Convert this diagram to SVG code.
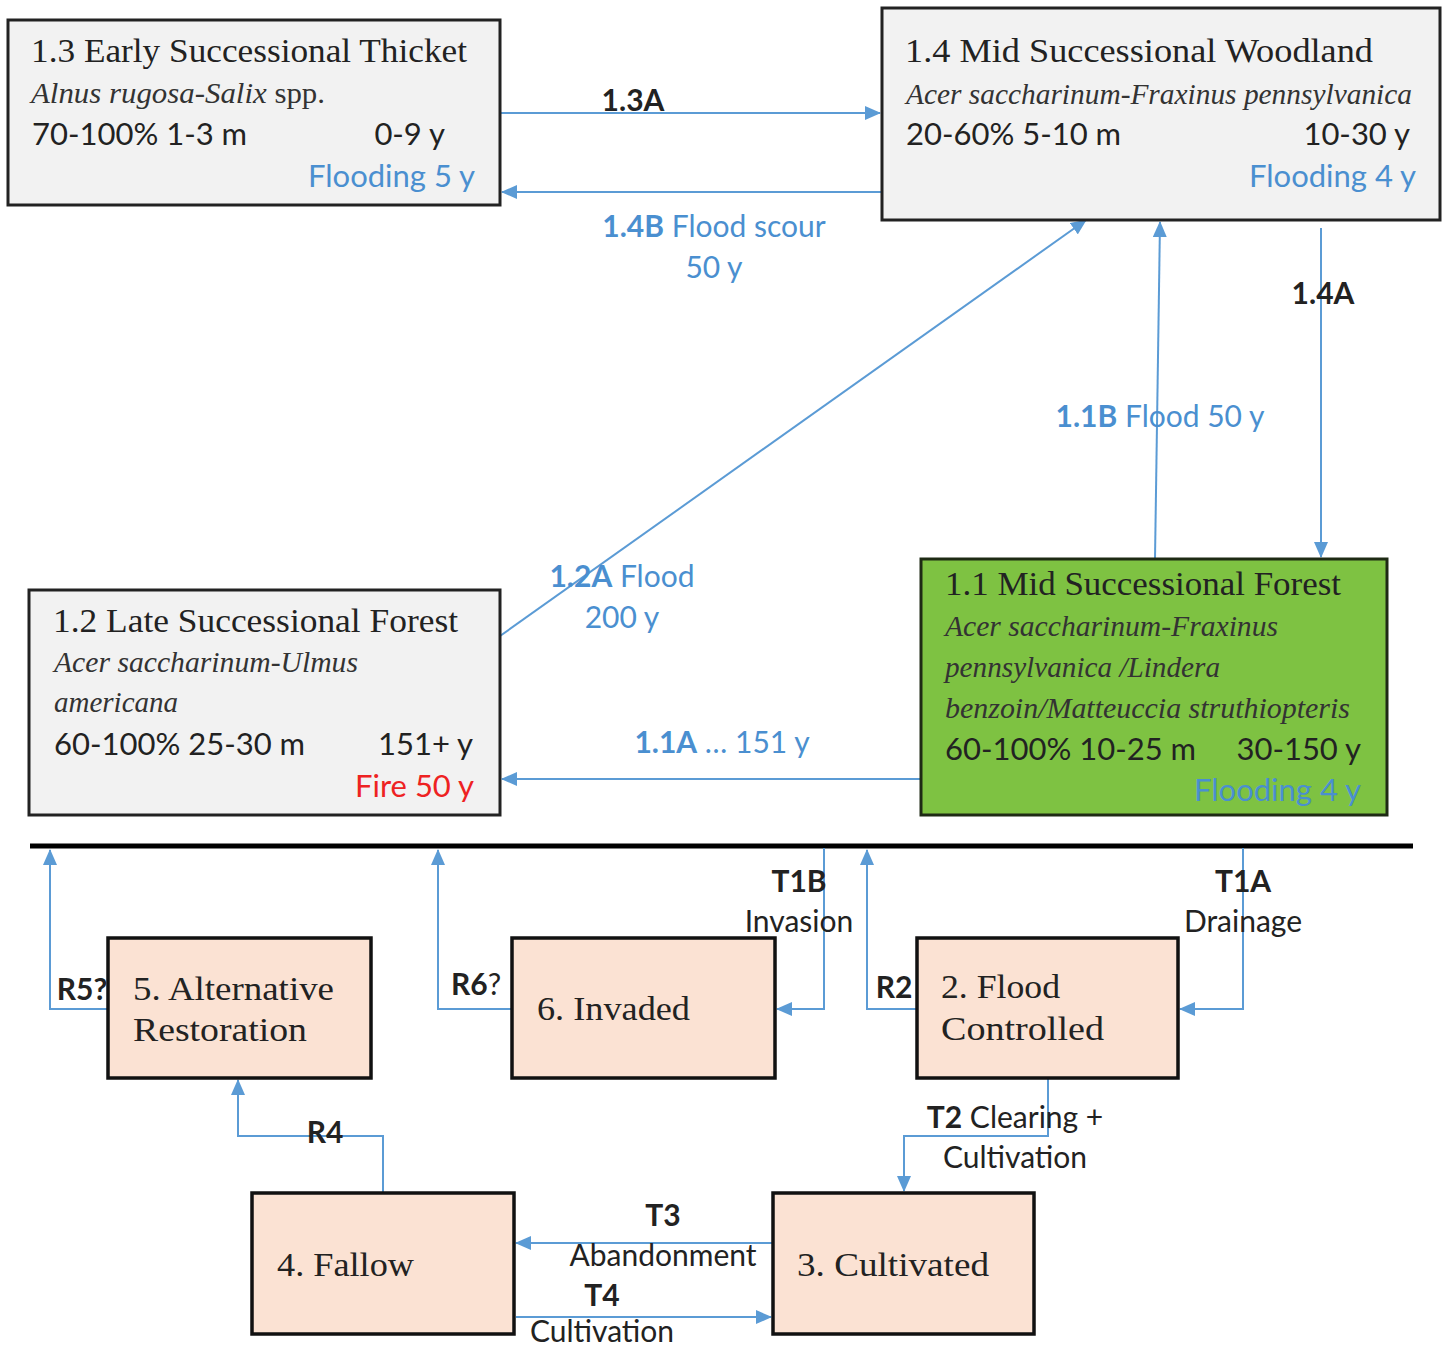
<svg xmlns="http://www.w3.org/2000/svg" width="1449" height="1351" viewBox="0 0 1449 1351">
<defs>
<marker id="ah" markerUnits="userSpaceOnUse" markerWidth="16" markerHeight="14" refX="15" refY="7" orient="auto">
<path d="M0,0 L16,7 L0,14 Z" fill="#5b9bd5"/>
</marker>
<style>
.box{fill:#f2f2f2;stroke:#222;stroke-width:3}
.grn{fill:#7ec242;stroke:#1e2a14;stroke-width:3}
.pch{fill:#fbe2d3;stroke:#111;stroke-width:3.5}
.hd{font-family:"Liberation Serif","DejaVu Serif",serif;font-size:33px;fill:#222}
.sp{font-family:"Liberation Serif","DejaVu Serif",serif;font-style:italic;font-size:30px;fill:#333}
.tx{font-family:Lato,"Liberation Sans",sans-serif;font-size:31px;fill:#222}
.bl{font-family:Lato,"Liberation Sans",sans-serif;font-size:31px;fill:#4a8fd0}
.rd{font-family:Lato,"Liberation Sans",sans-serif;font-size:31px;fill:#ee2222}
.lb{font-family:Lato,"Liberation Sans",sans-serif;font-size:30px;fill:#222}
.lbb{font-family:Lato,"Liberation Sans",sans-serif;font-size:30px;fill:#4a8fd0}
.b{font-weight:bold}
.n{font-style:normal}
.c{stroke:#5b9bd5;stroke-width:2;fill:none}
.st{font-family:"Liberation Serif","DejaVu Serif",serif;font-size:34px;fill:#222}
</style>
</defs>
<rect width="1449" height="1351" fill="#ffffff"/>

<g id="connectors">
<line class="c" x1="500" y1="113" x2="880" y2="113" marker-end="url(#ah)"/>
<line class="c" x1="882" y1="192" x2="502" y2="192" marker-end="url(#ah)"/>
<line class="c" x1="500" y1="636" x2="1086" y2="220" marker-end="url(#ah)"/>
<line class="c" x1="1155" y1="559" x2="1160" y2="222" marker-end="url(#ah)"/>
<line class="c" x1="1321" y1="228" x2="1321" y2="557" marker-end="url(#ah)"/>
<line class="c" x1="921" y1="779" x2="502" y2="779" marker-end="url(#ah)"/>
<line x1="30" y1="846" x2="1413" y2="846" stroke="#000" stroke-width="5"/>
<polyline class="c" points="108,1009 50,1009 50,850" marker-end="url(#ah)"/>
<polyline class="c" points="512,1009 438,1009 438,850" marker-end="url(#ah)"/>
<polyline class="c" points="824,848 824,1009 777,1009" marker-end="url(#ah)"/>
<polyline class="c" points="917,1009 867,1009 867,850" marker-end="url(#ah)"/>
<polyline class="c" points="1243,848 1243,1009 1180,1009" marker-end="url(#ah)"/>
<polyline class="c" points="1048,1078 1048,1136 904,1136 904,1191" marker-end="url(#ah)"/>
<polyline class="c" points="383,1193 383,1136 238,1136 238,1080" marker-end="url(#ah)"/>
<line class="c" x1="773" y1="1243" x2="516" y2="1243" marker-end="url(#ah)"/>
<line class="c" x1="516" y1="1317" x2="771" y2="1317" marker-end="url(#ah)"/>

<text class="lb b" x="633" y="111" text-anchor="middle">1.3A</text>
<text class="lbb" x="714" y="237" text-anchor="middle"><tspan class="b">1.4B</tspan> Flood scour</text>
<text class="lbb" x="714" y="278" text-anchor="middle">50 y</text>
<text class="lbb" x="622" y="587" text-anchor="middle"><tspan class="b">1.2A</tspan> Flood</text>
<text class="lbb" x="622" y="628" text-anchor="middle">200 y</text>
<text class="lbb" x="1160" y="427" text-anchor="middle"><tspan class="b">1.1B</tspan> Flood 50 y</text>
<text class="lb b" x="1323" y="304" text-anchor="middle">1.4A</text>
<text class="lbb" x="722" y="753" text-anchor="middle"><tspan class="b">1.1A</tspan> … 151 y</text>
<text class="lb b" x="82" y="1000" text-anchor="middle">R5?</text>
<text class="lb" x="476" y="995" text-anchor="middle"><tspan class="b">R6</tspan>?</text>
<text class="lb b" x="799" y="892" text-anchor="middle">T1B</text>
<text class="lb" x="799" y="932" text-anchor="middle">Invasion</text>
<text class="lb b" x="894" y="998" text-anchor="middle">R2</text>
<text class="lb b" x="1243" y="892" text-anchor="middle">T1A</text>
<text class="lb" x="1243" y="932" text-anchor="middle">Drainage</text>
<text class="lb" x="1015" y="1128" text-anchor="middle"><tspan class="b">T2</tspan> Clearing +</text>
<text class="lb" x="1015" y="1168" text-anchor="middle">Cultivation</text>
<text class="lb b" x="325" y="1143" text-anchor="middle">R4</text>
<text class="lb b" x="663" y="1226" text-anchor="middle">T3</text>
<text class="lb" x="663" y="1266" text-anchor="middle">Abandonment</text>
<text class="lb b" x="602" y="1306" text-anchor="middle">T4</text>
<text class="lb" x="602" y="1342" text-anchor="middle">Cultivation</text>
</g>

<g id="n13">
<rect class="box" x="8" y="20" width="492" height="185"/>
<text class="hd" x="31" y="62" textLength="436" lengthAdjust="spacingAndGlyphs">1.3 Early Successional Thicket</text>
<text class="sp" x="31" y="103" textLength="294" lengthAdjust="spacingAndGlyphs">Alnus rugosa-Salix <tspan class="n">spp.</tspan></text>
<text class="tx" x="32" y="145">70-100% 1-3 m</text>
<text class="tx" x="445" y="145" text-anchor="end">0-9 y</text>
<text class="bl" x="475" y="187" text-anchor="end">Flooding 5 y</text>
</g>

<g id="n14">
<rect class="box" x="882" y="8" width="558" height="212"/>
<text class="hd" x="905" y="62" textLength="468" lengthAdjust="spacingAndGlyphs">1.4 Mid Successional Woodland</text>
<text class="sp" x="906" y="104" textLength="506" lengthAdjust="spacingAndGlyphs">Acer saccharinum-Fraxinus pennsylvanica</text>
<text class="tx" x="906" y="145">20-60% 5-10 m</text>
<text class="tx" x="1410" y="145" text-anchor="end">10-30 y</text>
<text class="bl" x="1416" y="187" text-anchor="end">Flooding 4 y</text>
</g>

<g id="n12">
<rect class="box" x="29" y="590" width="471" height="225"/>
<text class="hd" x="53" y="632" textLength="405" lengthAdjust="spacingAndGlyphs">1.2 Late Successional Forest</text>
<text class="sp" x="54" y="672" textLength="304" lengthAdjust="spacingAndGlyphs">Acer saccharinum-Ulmus</text>
<text class="sp" x="54" y="712" textLength="124" lengthAdjust="spacingAndGlyphs">americana</text>
<text class="tx" x="54" y="755">60-100% 25-30 m</text>
<text class="tx" x="473" y="755" text-anchor="end">151+ y</text>
<text class="rd" x="474" y="797" text-anchor="end">Fire 50 y</text>
</g>

<g id="n11">
<rect class="grn" x="921" y="559" width="466" height="256"/>
<text class="hd" x="945" y="595" textLength="396" lengthAdjust="spacingAndGlyphs" fill="#1a1a1a">1.1 Mid Successional Forest</text>
<text class="sp" x="945" y="636" textLength="333" lengthAdjust="spacingAndGlyphs" fill="#1f2a15">Acer saccharinum-Fraxinus</text>
<text class="sp" x="945" y="677" textLength="275" lengthAdjust="spacingAndGlyphs" fill="#1f2a15">pennsylvanica /Lindera</text>
<text class="sp" x="945" y="718" textLength="405" lengthAdjust="spacingAndGlyphs" fill="#1f2a15">benzoin/Matteuccia struthiopteris</text>
<text class="tx" x="945" y="760" fill="#1a1a1a">60-100% 10-25 m</text>
<text class="tx" x="1361" y="760" text-anchor="end" fill="#1a1a1a">30-150 y</text>
<text class="bl" x="1361" y="801" text-anchor="end">Flooding 4 y</text>
</g>

<g id="n5">
<rect class="pch" x="108" y="938" width="263" height="140"/>
<text class="st" x="133" y="1000" textLength="201" lengthAdjust="spacingAndGlyphs">5. Alternative</text>
<text class="st" x="133" y="1041" textLength="174" lengthAdjust="spacingAndGlyphs">Restoration</text>
</g>

<g id="n6">
<rect class="pch" x="512" y="938" width="263" height="140"/>
<text class="st" x="537" y="1020" textLength="153" lengthAdjust="spacingAndGlyphs">6. Invaded</text>
</g>

<g id="n2">
<rect class="pch" x="917" y="938" width="261" height="140"/>
<text class="st" x="941" y="998" textLength="119" lengthAdjust="spacingAndGlyphs">2. Flood</text>
<text class="st" x="941" y="1040" textLength="163" lengthAdjust="spacingAndGlyphs">Controlled</text>
</g>

<g id="n4">
<rect class="pch" x="252" y="1193" width="262" height="141"/>
<text class="st" x="277" y="1276" textLength="137" lengthAdjust="spacingAndGlyphs">4. Fallow</text>
</g>

<g id="n3">
<rect class="pch" x="773" y="1193" width="261" height="141"/>
<text class="st" x="797" y="1276" textLength="192" lengthAdjust="spacingAndGlyphs">3. Cultivated</text>
</g>
</svg>
